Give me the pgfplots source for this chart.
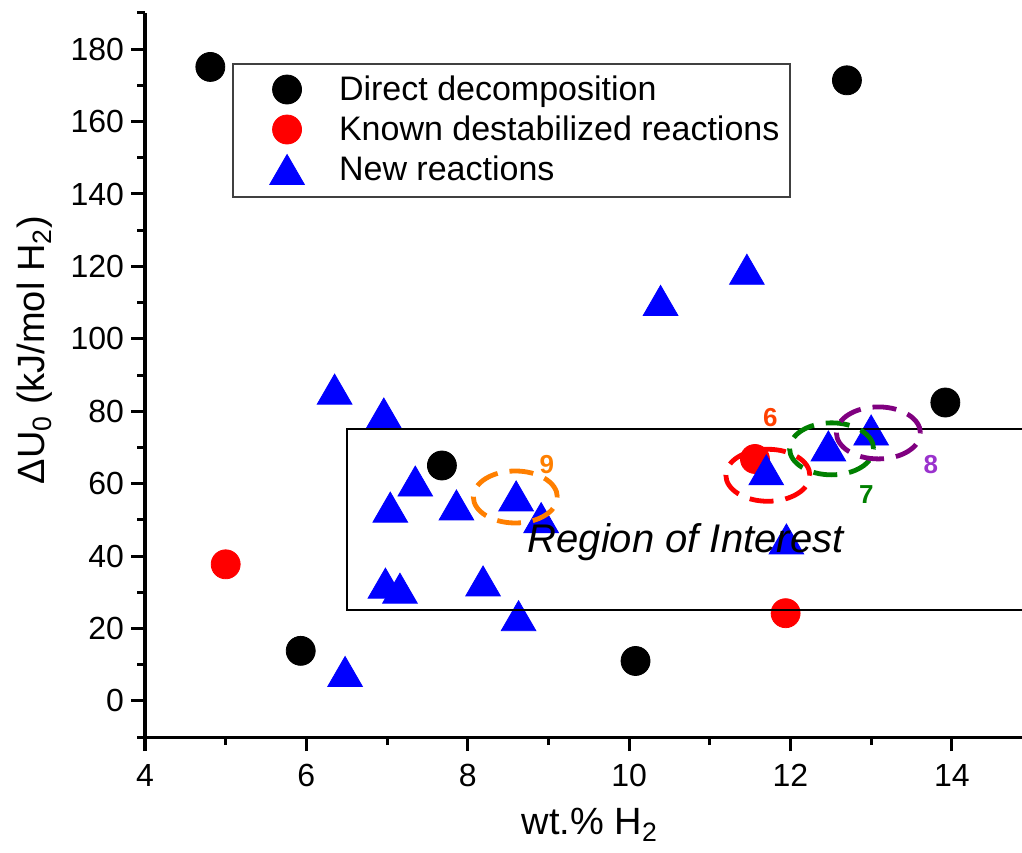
\documentclass[border=0pt]{standalone}
\usepackage{fontspec}
\setmainfont{Liberation Sans}
\usepackage{pgfplots}
\pgfplotsset{compat=1.18}
\definecolor{ellorange}{HTML}{FF7F00}
\definecolor{ellgreen}{HTML}{008000}
\definecolor{ellpurple}{HTML}{800080}
\definecolor{lblred}{HTML}{FF4000}
\definecolor{lblpurple}{HTML}{9A32CD}

\begin{document}
\begin{tikzpicture}
\begin{axis}[
  at={(0pt,0pt)}, anchor=south west,
  scale only axis, width=438.5pt, height=362pt,
  xmin=4, xmax=14.87, ymin=-10, ymax=190,
  axis lines*=left,
  axis line style={line width=1.5pt},
  xtick={4,6,...,14}, minor xtick={5,7,...,13},
  ytick={0,20,...,180}, minor ytick={-10,10,...,190},
  tick align=outside,
  major tick length=7pt, minor tick length=4pt,
  every tick/.style={black, line width=1.5pt},
  tick label style={font=\fontsize{16}{19}\selectfont},
  xticklabel style={yshift=-3pt},
  /pgf/number format/assume math mode=true,
  xlabel={wt.\% H\textsubscript{2}},
  ylabel={ΔU\textsubscript{0} (kJ/mol H\textsubscript{2})},
  every axis x label/.style={at={(axis cs:9.514,-37.0)}, anchor=base,
    font=\fontsize{19}{22}\selectfont},
  every axis y label/.style={at={(axis cs:2.637,96.9)}, anchor=center, rotate=90,
    font=\fontsize{19}{22}\selectfont},
  clip=false, clip mode=individual,
  legend style={at={(axis cs:5.508,174.5)}, anchor=north west,
    draw=none, fill=none, inner sep=0pt, row sep=0pt,
    font=\fontsize{17}{20}\selectfont,
    cells={anchor=west, text height=12pt, text depth=0pt, inner sep=0pt},
    /tikz/every odd column/.append style={column sep=14pt}},
  legend image code/.code={\draw[#1] plot coordinates {(0pt,0pt)};
    \path[draw=none, fill=none] (-10pt,-10pt) rectangle (10pt,10pt);},
]
% Direct decomposition
\addplot[only marks, mark=*, mark size=7.25pt, black,
  mark options={draw=none, fill=black}] coordinates {
  (4.81,175.1) (12.70,171.4) (13.92,82.4) (7.68,65.0) (5.93,13.8) (10.08,11.0)
};
\addlegendentry{Direct decomposition}
% Known destabilized reactions
\addplot[only marks, mark=*, mark size=7.25pt, red,
  mark options={draw=none, fill=red}] coordinates {
  (5.00,37.7) (11.56,66.8) (11.94,24.2)
};
\addlegendentry{Known destabilized reactions}
% New reactions
\addplot[only marks, mark=triangle*, mark size=10pt, blue,
  mark options={draw=none, fill=blue, yshift=-2.5pt}] coordinates {
  (6.35,86.1) (6.96,79.5) (7.35,60.7) (7.04,53.5) (7.86,54.1) (8.60,56.6)
  (8.91,50.6) (6.98,32.5) (7.16,31.1) (8.19,33.1) (8.63,23.5) (6.48,8.1)
  (10.39,110.6) (11.46,119.2) (11.70,63.8) (12.47,70.4) (13.00,74.8) (11.95,44.7)
};
\addlegendentry{New reactions}

% anchor points for the annotations drawn after the axis
\coordinate (roiA) at (axis cs:6.5,25);
\coordinate (roiB) at (axis cs:15.5,75);
\coordinate (legA) at (axis cs:5.09,139.2);
\coordinate (legB) at (axis cs:12.0,175.9);
\coordinate (e9) at (axis cs:8.59,56.3);
\coordinate (e6) at (axis cs:11.72,62.3);
\coordinate (e7) at (axis cs:12.51,69.6);
\coordinate (e8) at (axis cs:13.09,74.0);
\coordinate (t9) at (axis cs:8.98,65.2);
\coordinate (t6) at (axis cs:11.75,78.3);
\coordinate (t7) at (axis cs:12.94,56.9);
\coordinate (t8) at (axis cs:13.74,65.4);
\coordinate (troi) at (axis cs:10.70,40.9);
\end{axis}

\draw[line width=0.9pt] (roiA) rectangle (roiB);
\draw[line width=1pt, black!75] (legA) rectangle (legB);

\draw[ellorange, line width=2.4pt, dash pattern=on 12pt off 6pt]
  (e9) ellipse [x radius=21pt, y radius=13pt];
\draw[red, line width=2.4pt, dash pattern=on 12pt off 6pt]
  (e6) ellipse [x radius=21pt, y radius=13pt];
\draw[ellgreen, line width=2.4pt, dash pattern=on 12pt off 6pt]
  (e7) ellipse [x radius=21pt, y radius=13pt];
\draw[ellpurple, line width=2.4pt, dash pattern=on 12pt off 6pt]
  (e8) ellipse [x radius=21pt, y radius=13pt];

\node[ellorange, font=\bfseries\fontsize{13}{15}\selectfont] at (t9) {9};
\node[lblred, font=\bfseries\fontsize{13}{15}\selectfont] at (t6) {6};
\node[ellgreen, font=\bfseries\fontsize{13}{15}\selectfont] at (t7) {7};
\node[lblpurple, font=\bfseries\fontsize{13}{15}\selectfont] at (t8) {8};

\node[font=\itshape\fontsize{20}{24}\selectfont, anchor=base] at (troi) {Region of Interest};

\pgfresetboundingbox
\path (-72.5pt,-57.5pt) rectangle (438.5pt,368.5pt);
\end{tikzpicture}
\end{document}
